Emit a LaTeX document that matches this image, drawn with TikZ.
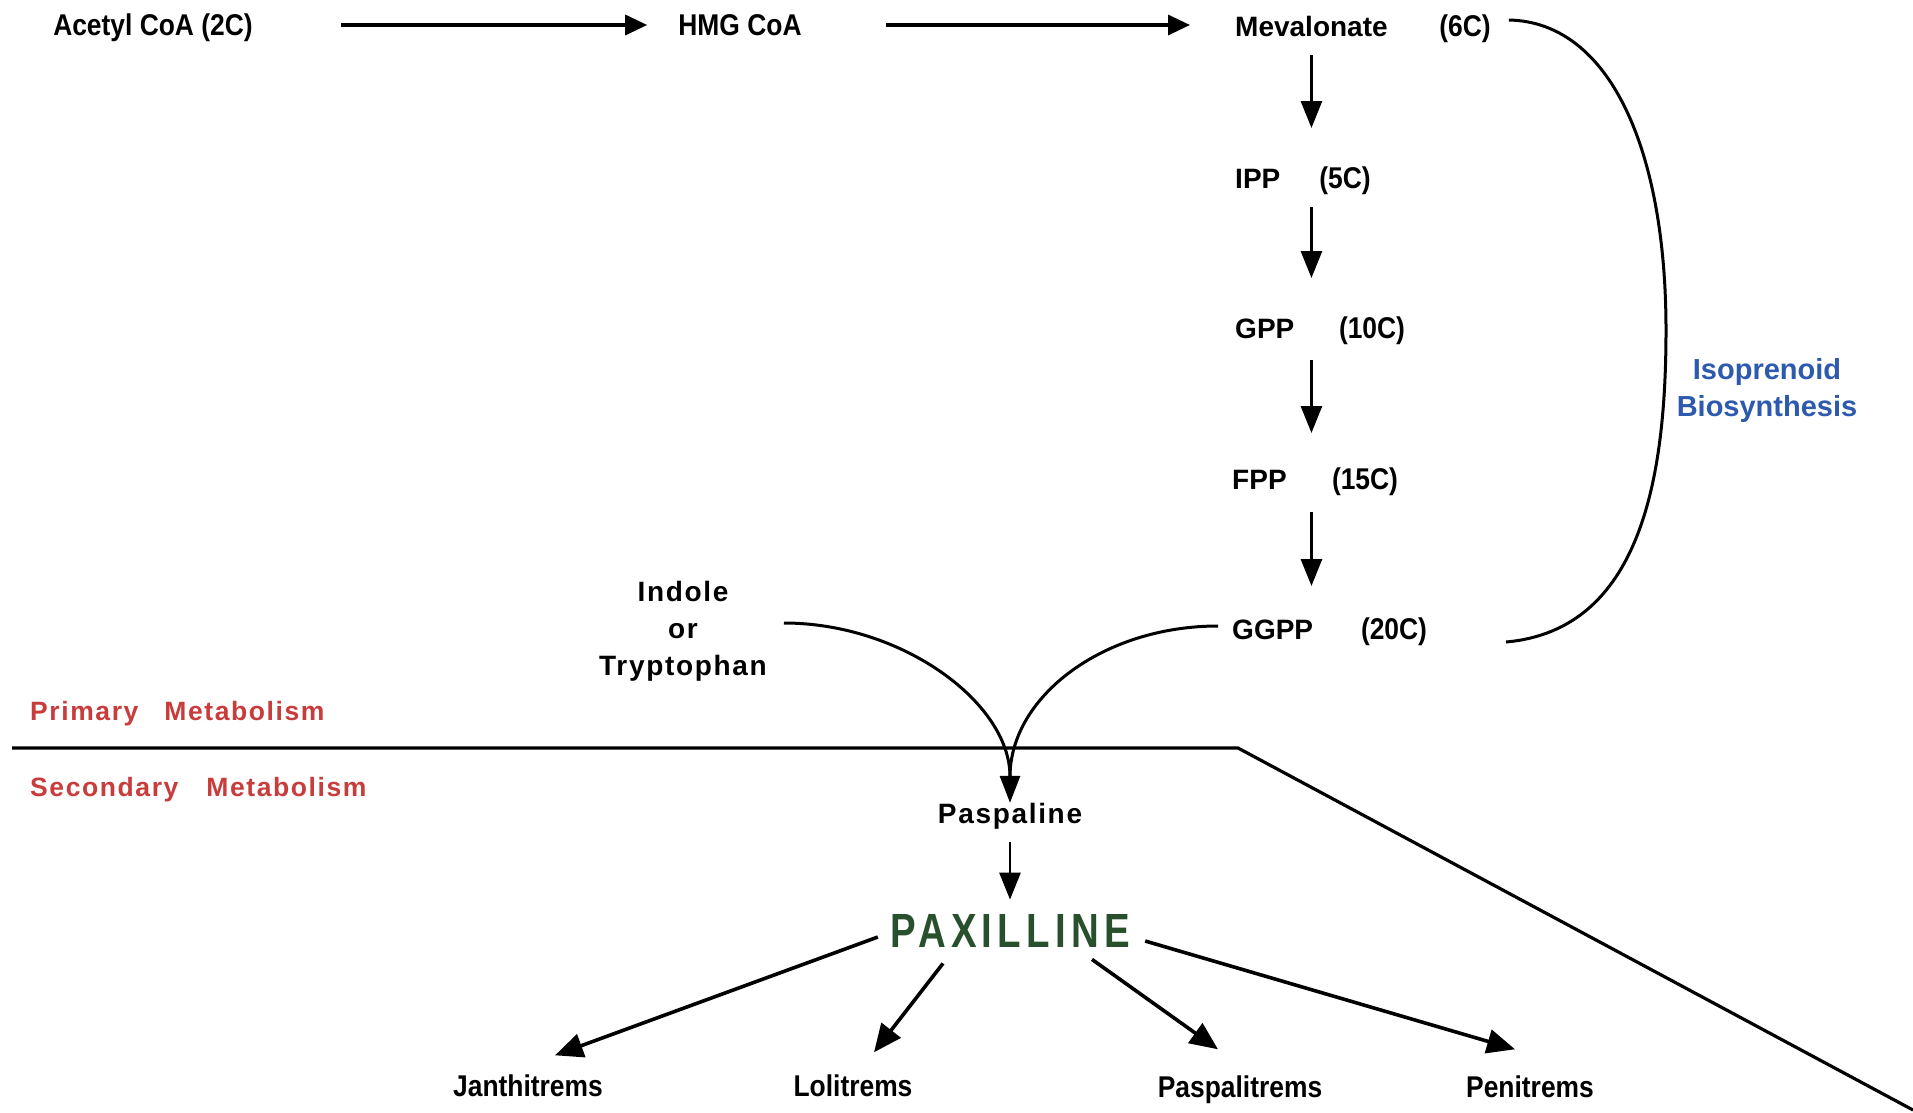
\documentclass[tikz,border=0pt]{standalone}
\usepackage{fontspec}
\setmainfont{Liberation Sans}
\newfontfamily\narrowfont{Liberation Sans}[FakeStretch=0.88]
\newfontfamily\spacedfont{Liberation Sans}[LetterSpace=6]
\newfontfamily\paxfont{Liberation Sans}[FakeStretch=0.8,LetterSpace=11]
\usetikzlibrary{arrows.meta,calc}
\definecolor{metred}{RGB}{200,60,60}
\definecolor{isoblue}{RGB}{45,90,175}
\definecolor{paxgreen}{RGB}{40,80,45}
\tikzset{
  nar/.style={inner sep=0pt, text height=21pt, text depth=0pt, font=\narrowfont\bfseries\fontsize{30}{34}\selectfont},
  reg/.style={inner sep=0pt, text height=20pt, text depth=0pt, font=\bfseries\fontsize{28}{32}\selectfont},
  spc/.style={inner sep=0pt, align=center, font=\spacedfont\bfseries\fontsize{28}{37}\selectfont},
  spcone/.style={inner sep=0pt, text height=20pt, text depth=0pt, font=\spacedfont\bfseries\fontsize{28}{32}\selectfont},
  met/.style={inner sep=0pt, anchor=west, text height=19pt, text depth=0pt, text=metred, font=\spacedfont\bfseries\fontsize{26.5}{30}\selectfont},
  iso/.style={inner sep=0pt, align=center, text=isoblue, font=\bfseries\fontsize{29}{37}\selectfont},
  pax/.style={inner sep=0pt, text height=34.4pt, text depth=0pt, text=paxgreen, font=\paxfont\bfseries\fontsize{48}{52}\selectfont},
  harr/.style={line width=3.4pt, -{Triangle[length=22pt,width=20pt]}},
  varr/.style={line width=2.8pt, -{Triangle[length=27pt,width=21pt]}},
  barr/.style={line width=3.6pt, -{Triangle[length=28pt,width=24pt]}},
  curve/.style={line width=3pt},
  rule/.style={line width=3.2pt},
}
\begin{document}
\begin{tikzpicture}[x=1pt,y=-1pt]
\useasboundingbox (0,0) rectangle (1913,1112);
\fill[white] (0,0) rectangle (1913,1112);

% top row
\node[nar] (acetyl) at (153,25) {Acetyl CoA (2C)};
\node[nar] (hmg) at (740,25) {HMG CoA};
\node[reg,anchor=west] (mev) at (1235,26) {Mevalonate};
\node[nar] (c6) at (1465,26) {(6C)};
% isoprenoid chain
\node[reg,anchor=west] (ipp) at (1235,178) {IPP};
\node[nar] (c5) at (1345,178) {(5C)};
\node[reg,anchor=west] (gpp) at (1235,328) {GPP};
\node[nar] (c10) at (1372,328) {(10C)};
\node[reg,anchor=west] (fpp) at (1232,479) {FPP};
\node[nar] (c15) at (1365,479) {(15C)};
\node[reg,anchor=west] (ggpp) at (1232,629) {GGPP};
\node[nar] (c20) at (1394,629) {(20C)};
\node[iso] (isolab) at (1767,390) {Isoprenoid\\Biosynthesis};

% indole and metabolism labels
\node[spc] (indole) at (683,631) {Indole\\or\\Tryptophan};
\node[met] (prim) at (30,711) {Primary\hspace{26pt}Metabolism};
\node[met] (sec) at (30,787) {Secondary\hspace{28pt}Metabolism};

% secondary products
\node[spcone] (pasp) at (1010,813) {Paspaline};
\node[pax] (pax) at (1010,930) {PAXILLINE};
\node[nar] (janth) at (528,1086) {Janthitrems};
\node[nar] (loli) at (853,1086) {Lolitrems};
\node[nar] (paspt) at (1240,1087) {Paspalitrems};
\node[nar] (peni) at (1530,1087) {Penitrems};

% top arrows
\draw[harr, shorten <=88pt, shorten >=31pt] (acetyl.east) -- (hmg.west);
\draw[harr, shorten <=84pt, shorten >=45pt] (hmg.east) -- (hmg.east -| mev.west);

% vertical arrows
\draw[varr, shorten <=29pt, shorten >=50pt] (mev.center) -- (mev.center |- ipp.center);
\draw[varr, shorten <=29pt, shorten >=50pt] (ipp.center -| mev.center) -- (gpp.center -| mev.center);
\draw[varr, shorten <=32pt, shorten >=46pt] (gpp.center -| mev.center) -- (fpp.center -| mev.center);
\draw[varr, shorten <=33pt, shorten >=43pt] (fpp.center -| mev.center) -- (ggpp.center -| mev.center);

% bracket
\coordinate (brtop) at ($(c6.east)+(18,-6)$);
\coordinate (brmid) at (1666,330);
\coordinate (brbot) at (1506,642);
\draw[curve] (brtop) .. controls (1610,22) and (1666,150) .. (brmid)
  .. controls (1666,480) and (1640,630) .. (brbot);

% dividing rule
\coordinate (hl0) at (12,748);
\coordinate (hl1) at (1238,748);
\coordinate (hl2) at (1913,1110);
\draw[rule, line join=miter] (hl0) -- (hl1) -- (hl2);

% converging curves
\coordinate (indstart) at ($(indole.east)+(17,-8)$);
\coordinate (ggstart) at ($(ggpp.west)+(-14,-3)$);
\coordinate (ggend) at ($(pasp.north)+(0,-26)$);
\draw[curve] (ggstart) .. controls +(-115,0) and +(0,-80) .. (ggend);
\draw[curve, -{Triangle[length=27pt,width=20pt]}] (indstart) .. controls +(118,0) and +(0,-100) .. (pasp.north);

% paspaline to paxilline
\draw[varr, shorten <=19pt, shorten >=13pt] (pasp.south) -- (pax.north);

% branches
\draw[barr] ($(pax.west)+(-12,7)$) -- ($(janth.north)+(27,-20)$);
\draw[barr] ($(pax.south)+(-67,16)$) -- ($(loli.north)+(21,-23)$);
\draw[barr] ($(pax.south)+(82,12)$) -- ($(paspt.north)+(-22,-27)$);
\draw[barr] ($(pax.east)+(15,11)$) -- ($(peni.north)+(-15,-27)$);
\end{tikzpicture}
\end{document}
